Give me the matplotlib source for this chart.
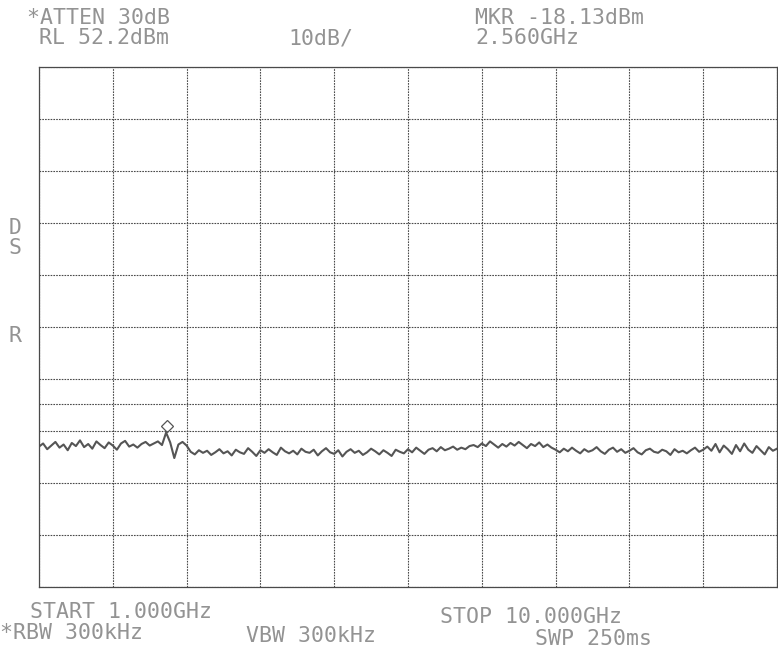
"""Spectrum analyzer plot, 1-10 GHz sweep, recreated with matplotlib."""
import numpy as np
import matplotlib.pyplot as plt

W, H = 778, 662

# analyzer settings
ref_level = 52.2        # dBm
db_per_div = 10
start_ghz = 1.0
stop_ghz = 10.0
display_line = -12.7    # dBm
marker_ghz = 2.56
marker_dbm = -18.13

# trace, dBm, evenly spaced sweep points
trace_dbm = [
    -20.8, -20.2, -21.3, -20.6, -19.9, -21.0, -20.4, -21.5, -20.1, -20.7,
    -19.6, -20.9, -20.3, -21.2, -19.8, -20.5, -21.1, -20.0, -20.6, -21.4,
    -20.2, -19.7, -20.8, -20.4, -21.0, -20.3, -19.9, -20.6, -20.2, -19.8,
    -20.5, -18.1, -20.0, -23.0, -20.4, -19.9, -20.6,
    -21.8, -22.3, -21.5, -22.0, -21.6, -22.4, -21.9, -21.3, -22.1, -21.7,
    -22.5, -21.4, -21.9, -22.2, -21.1, -21.8, -22.6, -21.5, -22.0, -21.3,
    -21.9, -22.4, -21.0, -21.7, -22.1, -21.6, -22.3, -21.2, -21.8, -22.0,
    -21.4, -22.5, -21.7, -21.1, -21.9, -22.2, -21.5, -22.7, -21.8, -21.3,
    -22.0, -21.6, -22.4, -21.9, -21.2, -21.7, -22.3, -21.5, -22.0, -22.6,
    -21.4, -21.8, -22.1, -21.3, -21.9, -21.0, -21.6, -22.2, -21.4, -21.1,
    -21.7, -20.9, -21.5, -21.2, -20.8, -21.4, -21.0, -21.3, -20.7,
    -20.5, -20.9, -20.2, -20.7, -19.8, -20.4, -21.0, -20.3, -20.8, -20.1,
    -20.6, -19.9, -20.5, -21.1, -20.3, -20.7, -20.0, -20.9, -20.4, -21.0,
    -21.4, -21.9, -21.2, -21.7, -21.0, -21.6, -22.1, -21.3, -21.8, -21.5,
    -20.9, -21.7, -22.2, -21.4, -21.0, -21.8, -21.3, -22.0, -21.6, -21.1,
    -21.9, -22.3, -21.5, -21.2, -21.8, -22.0, -21.4, -21.7, -22.4, -21.3,
    -21.9, -21.6, -22.1, -21.5, -21.0, -21.8, -21.4,
    -20.8, -21.6, -20.3, -21.9, -20.6, -21.3, -22.2, -20.5, -21.7, -20.2,
    -21.4, -22.0, -20.7, -21.5, -22.3, -20.9, -21.6, -21.2,
]

header_left = ["*ATTEN 30dB", "RL 52.2dBm"]
header_scale = "10dB/"
header_marker = ["MKR -18.13dBm", "2.560GHz"]
footer_top = ["START 1.000GHz", "STOP 10.000GHz"]
footer_bottom = ["*RBW 300kHz", "VBW 300kHz", "SWP 250ms"]
side_labels = ["D", "S", "R"]

TXT = "#939393"
GRID = "#4a4a4a"
FONT = "DejaVu Sans Mono"

fig = plt.figure(figsize=(W / 100, H / 100), dpi=100)
fig.patch.set_facecolor("white")

# graticule box in pixels: left, top, right, bottom
gl, gt, gr, gb = 39, 67, 777, 587
ax = fig.add_axes([gl / W, 1 - gb / H, (gr - gl) / W, (gb - gt) / H])

freqs = np.linspace(start_ghz, stop_ghz, len(trace_dbm))
bottom = ref_level - 10 * db_per_div

ax.set_xlim(start_ghz, stop_ghz)
ax.set_ylim(bottom, ref_level)
ax.set_xticks(np.linspace(start_ghz, stop_ghz, 11))
ax.set_yticks(np.linspace(bottom, ref_level, 11))
ax.tick_params(length=0, labelbottom=False, labelleft=False)
ax.grid(True, color=GRID, linestyle=(0, (1.5, 1)), linewidth=0.8)
for s in ax.spines.values():
    s.set_color(GRID)
    s.set_linestyle((0, (1.5, 1)))
    s.set_linewidth(0.9)

ax.axhline(display_line, color=GRID, linestyle=(0, (1.5, 1)), linewidth=0.8)

ax.plot(freqs, trace_dbm, color="#555555", linewidth=1.5)
ax.plot(marker_ghz, marker_dbm + 1.2, marker="D", markersize=6,
        markerfacecolor="none", markeredgecolor="#555555", markeredgewidth=0.9)


def put(x, y, s, size=15.5):
    fig.text(x / W, 1 - y / H, s, family=FONT, fontsize=size, color=TXT,
             ha="left", va="center")


put(27, 18, header_left[0])
put(39, 38, header_left[1])
put(288, 38, header_scale)
put(475, 18, header_marker[0])
put(475, 38, header_marker[1])
put(30, 612, footer_top[0])
put(440, 617, footer_top[1])
put(0, 633, footer_bottom[0])
put(246, 636, footer_bottom[1])
put(535, 639, footer_bottom[2])
put(9, 228, side_labels[0])
put(9, 248, side_labels[1])
put(9, 336, side_labels[2])

fig.savefig("out.png", dpi=100)
